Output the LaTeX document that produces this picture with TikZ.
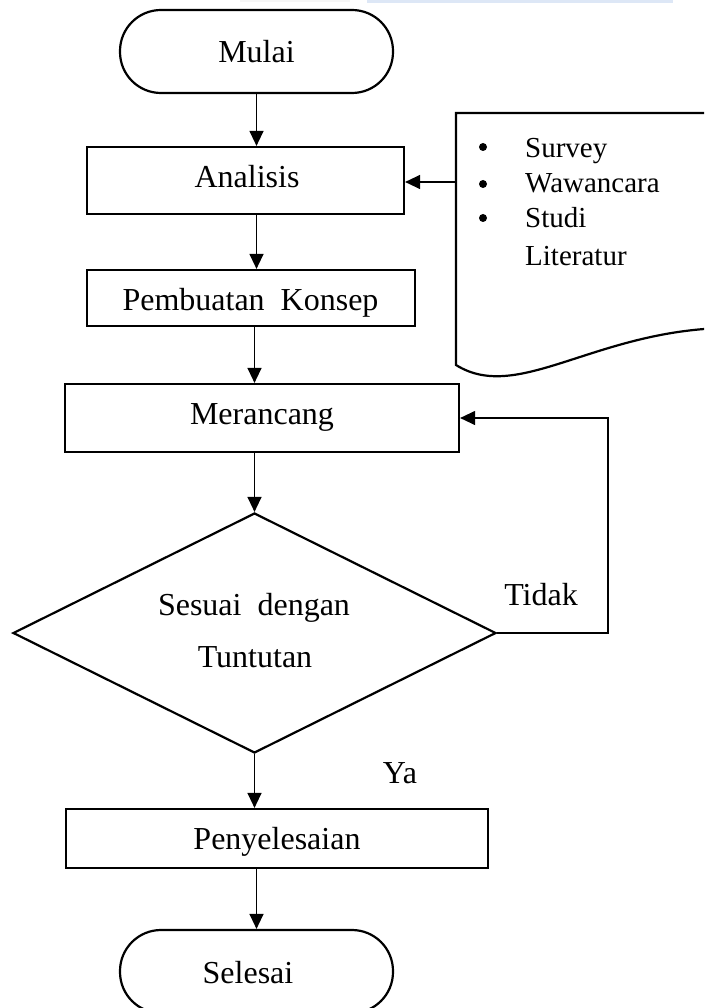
\documentclass[tikz,border=0pt]{standalone}
\usepackage{fontspec}
\setmainfont{Liberation Serif}
\usetikzlibrary{arrows.meta,shapes.geometric}
\definecolor{topblue}{RGB}{221,231,246}
\definecolor{topgrey}{RGB}{246,246,246}
\begin{document}
\begin{tikzpicture}[x=1pt,y=-1pt,
  boxst/.style={draw,line width=2.2pt,inner sep=0pt},
  termst/.style={boxst,rounded corners=41pt,minimum width=273pt,minimum height=83pt},
  lbl/.style={font=\fontsize{32}{38}\selectfont,inner sep=0pt,text height=21pt,text depth=0pt},
  small/.style={font=\fontsize{29}{34}\selectfont,inner sep=0pt,text height=19pt,text depth=0pt,anchor=west},
  conn/.style={line width=1.3pt,-{Triangle[length=15pt,width=14pt]}},
  back/.style={line width=1.2pt,-{Triangle[length=15pt,width=14pt]}},
  dotst/.style={circle,fill=black,inner sep=0pt,minimum size=8pt}]
\useasboundingbox (0,0) rectangle (704,1008);
\clip (0,0) rectangle (704,1008);
\fill[topgrey] (240,0) rectangle (350,2);
\fill[topblue] (367,0) rectangle (673,3);

% terminals and boxes
\node[termst] (mulai) at (256.5,51.5) {};
\node[lbl] at (256.5,52) {Mulai};
\node[boxst,minimum width=317pt,minimum height=67pt] (ana) at (245.5,180.5) {};
\node[lbl] at (247,177) {Analisis};
\node[boxst,minimum width=328pt,minimum height=56pt] (pk) at (251,298) {};
\node[lbl] at (250.5,300) {Pembuatan\ \ Konsep};
\node[boxst,minimum width=394pt,minimum height=68pt] (mer) at (262,418) {};
\node[lbl] at (262,414) {Merancang};
\node[diamond,draw,line width=2.2pt,inner sep=0pt,minimum width=483pt,minimum height=240pt] (dia) at (254.5,633) {};
\node[lbl] at (254,605) {Sesuai\ \ dengan};
\node[lbl] at (255,657) {Tuntutan};
\node[boxst,minimum width=422pt,minimum height=59pt] (pny) at (277,838.5) {};
\node[lbl] at (277,839) {Penyelesaian};
\node[termst] (sls) at (256.5,971.5) {};
\node[lbl] at (248,973) {Selesai};

% document shape
\draw[line width=2.2pt,fill=white] (740,113) -- (456,113) -- (456,365)
  .. controls (520,405) and (600,325) .. (740,328);
\coordinate (docw) at (456,182);
\node[dotst] (b1) at (483,147) {};
\node[dotst] (b2) at (483,184) {};
\node[dotst] (b3) at (483,218) {};
\node[small] (t1) at (525,148) {Survey};
\node[small] (t2) at (525,183) {Wawancara};
\node[small] (t3) at (525,218) {Studi};
\node[small] (t4) at (525,256) {Literatur};

% labels
\node[lbl] (tidak) at (541,595) {Tidak};
\node[lbl] (ya) at (400,773) {Ya};

% connectors
\coordinate (fb) at (608,633);
\draw[conn] (mulai.south) -- (mulai.south |- ana.north);
\draw[conn] (ana.south -| mulai.south) -- (pk.north -| mulai.south);
\draw[conn] (pk.south -| dia.north) -- (mer.north -| dia.north);
\draw[conn] (docw) -- (ana.east |- docw);
\draw[conn] (mer.south -| dia.north) -- (dia.north);
\draw[conn] (dia.south) -- (dia.south |- pny.north);
\draw[conn] (pny.south -| mulai.south) -- (sls.north);
\draw[back] (dia.east) -- (fb) |- (mer.east);
\end{tikzpicture}
\end{document}
